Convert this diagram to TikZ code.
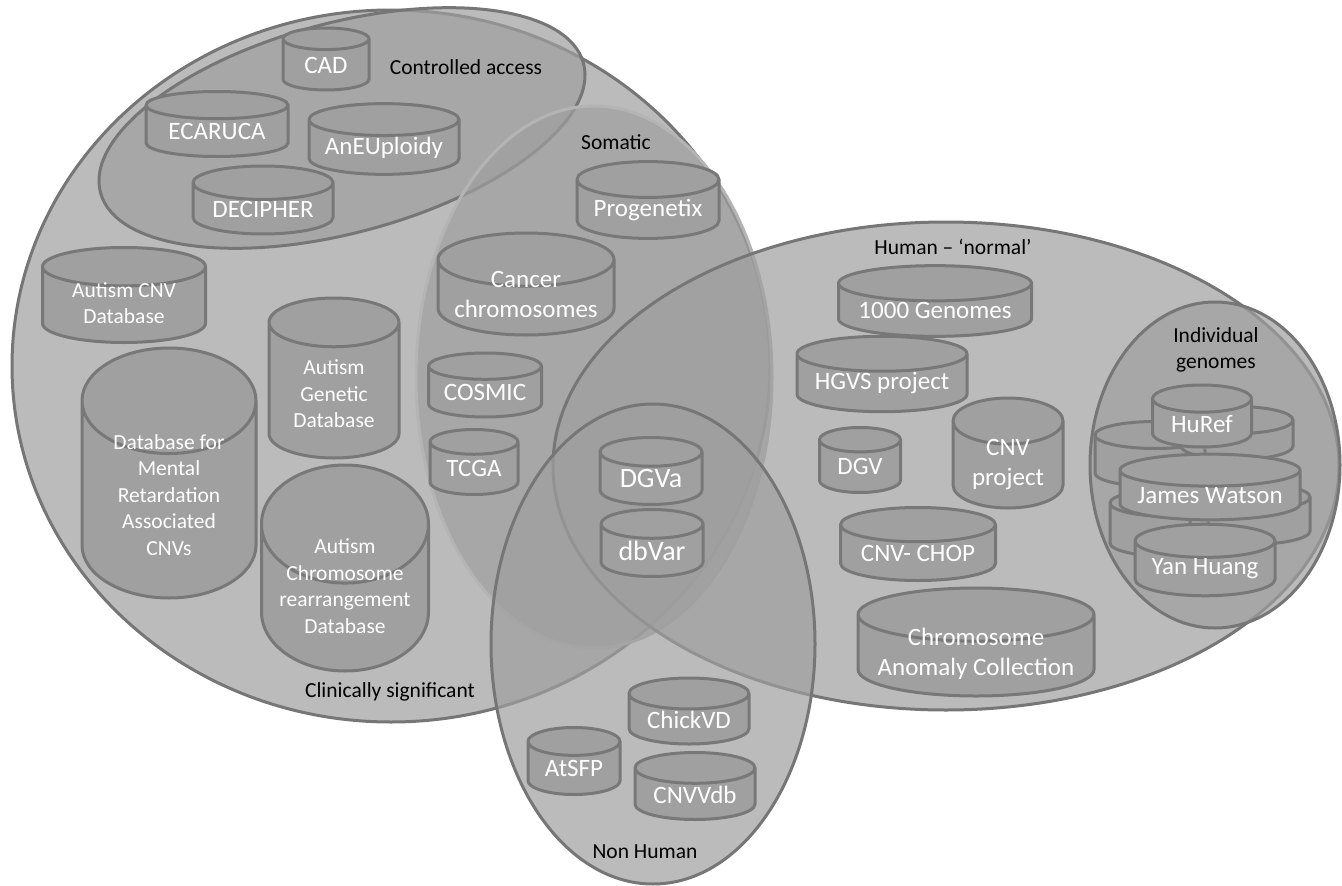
\documentclass[tikz,border=0pt]{standalone}
\usepackage{fontspec}
\setmainfont{Carlito}
\usetikzlibrary{shapes.geometric,positioning}

\definecolor{setfill}{RGB}{159,159,159}
\definecolor{setline}{RGB}{118,118,118}
\definecolor{dbfill}{RGB}{160,160,160}
\definecolor{dbline}{RGB}{120,120,120}

\pgfdeclarelayer{sets}
\pgfdeclarelayer{back}
\pgfsetlayers{sets,back,main}

% stacked label that does not stretch its cylinder
\newcommand{\dbtext}[2][-5pt]{\smash{\raisebox{#1}{\begin{tabular}{@{}c@{}}#2\end{tabular}}}}

\begin{document}
\begin{tikzpicture}[x=1pt,y=-1pt,
  set/.style={draw=setline,line width=3pt,fill=setfill,fill opacity=0.7},
  db/.style={cylinder,shape border rotate=90,aspect=#1,anchor=shape center,
    draw=dbline,line width=3pt,cylinder uses custom fill,cylinder body fill=dbfill,
    cylinder end fill=dbfill,text=white,inner sep=0pt,align=center,
    font=\fontsize{25}{30}\selectfont},
  db/.default=0.3,
  dbsmall/.style={db=#1,font=\fontsize{21.5}{26.5}\selectfont},
  dbsmall/.default=0.4,
  lbl/.style={font=\fontsize{21.5}{26}\selectfont,align=center,inner sep=0pt},
  link/.style={draw=dbline,line width=3pt}]

\useasboundingbox (0,0) rectangle (1342,886);

% Clinically significant
\node[db=0.5] (cad) at (326,59) [minimum width=86pt,minimum height=62pt] {CAD};
\node[db=0.28] (ecaruca) at (217,124) [minimum width=142pt,minimum height=65pt] {ECARUCA};
\node[db=0.27] (aneu) at (384,139) [minimum width=150pt,minimum height=62pt] {AnEUploidy};
\node[db=0.33] (decipher) at (263,200) [minimum width=140pt,minimum height=65pt] {DECIPHER};
\node[dbsmall=0.37] (autismcnv) at (124,295) [minimum width=163pt,minimum height=95pt] {\dbtext{Autism CNV\\Database}};
\node[dbsmall=0.6] (autismgen) at (334,378) [minimum width=130pt,minimum height=160pt] {\dbtext[-10pt]{Autism\\Genetic\\Database}};
\node[dbsmall=0.95] (mental) at (169,473) [minimum width=174pt,minimum height=250pt] {\dbtext[-2pt]{Database for\\Mental\\Retardation\\Associated\\CNVs}};
\node[dbsmall=0.9] (autismchrom) at (345,568) [minimum width=167pt,minimum height=206pt] {\dbtext[5pt]{Autism\\Chromosome\\rearrangement\\Database}};

% Somatic
\node[db=0.33] (progenetix) at (648,200) [minimum width=142pt,minimum height=65pt] {Progenetix};
\node[db=0.37] (cancer) at (526,284) [minimum width=176pt,minimum height=102pt] {\dbtext{Cancer\\chromosomes}};
\node[db=0.32] (cosmic) at (485,385) [minimum width=113pt,minimum height=64pt] {COSMIC};
\node[db=0.45] (tcga) at (474,462) [minimum width=88pt,minimum height=65pt] {TCGA};
\node[db=0.46,font=\fontsize{28}{32}\selectfont] (dgva) at (651,471) [minimum width=102pt,minimum height=67pt] {DGVa};
\node[db=0.43,font=\fontsize{28}{32}\selectfont] (dbvar) at (652,543) [minimum width=102pt,minimum height=67pt] {dbVar};

% Human - normal
\node[db=0.23] (genomes) at (935,301) [minimum width=193pt,minimum height=63pt] {1000 Genomes};
\node[db=0.26] (hgvs) at (882,374) [minimum width=170pt,minimum height=65pt] {HGVS project};
\node[db=0.54] (dgv) at (860,460) [minimum width=81pt,minimum height=65pt] {DGV};
\node[db=0.64] (cnvproject) at (1008,453) [minimum width=110pt,minimum height=110pt] {\dbtext{CNV\\project}};
\node[db=0.3] (chop) at (918,544) [minimum width=155pt,minimum height=73pt] {CNV- CHOP};
\node[db=0.27] (anomaly) at (976,642) [minimum width=236pt,minimum height=108pt] {\dbtext{Chromosome\\Anomaly Collection}};

% Individual genomes
\node[db=0.44] (huref) at (1202,416) [minimum width=99pt,minimum height=62pt] {HuRef};
\node[db=0.22] (watson) at (1210,487) [minimum width=180pt,minimum height=61pt] {James Watson};
\node[db=0.31] (yan) at (1205,560) [minimum width=140pt,minimum height=65pt] {Yan Huang};

% Non Human
\node[db=0.37] (chickvd) at (689,711) [minimum width=120pt,minimum height=66pt] {ChickVD};
\node[db=0.48] (atsfp) at (574,761) [minimum width=92pt,minimum height=67pt] {AtSFP};
\node[db=0.37] (cnvvdb) at (695,786) [minimum width=120pt,minimum height=67pt] {CNVVdb};

% Set labels
\node[lbl] (lcontrolled) at (466,67) {Controlled access};
\node[lbl] (lsomatic) at (616,142) {Somatic};
\node[lbl] (lhuman) at (953,247) {Human -- `normal'};
\node[lbl] (lindividual) at (1216,350) {Individual\\genomes};
\node[lbl] (lclinical) at (390,692) {Clinically significant};
\node[lbl] (lnonhuman) at (645,852) {Non Human};

\begin{pgfonlayer}{back}
  \node[db=0.3] (bga) at (1155,454) [minimum width=120pt,minimum height=65pt] {\hspace*{90pt}};
  \node[db=0.3] (bgb) at (1237,433) [minimum width=112pt,minimum height=53pt] {\hspace*{90pt}};
  \node[db=0.3] (bgc) at (1170,523) [minimum width=120pt,minimum height=67pt] {\hspace*{90pt}};
  \node[db=0.3] (bgd) at (1250,514) [minimum width=120pt,minimum height=61pt] {\hspace*{90pt}};
  \draw[link] (huref) -- (watson);
  \draw[link] (watson) -- (yan);
\end{pgfonlayer}

\begin{pgfonlayer}{sets}
  \fill[white] (0,0) rectangle (1342,886);
  \draw[set] (391,366) ellipse [x radius=379, y radius=356];
  \draw[set,rotate around={15:(342,128)}] (342,128) ellipse [x radius=250, y radius=105];
  \draw[set,draw=setline!55] (594,377) ellipse [x radius=178, y radius=271];
  \draw[set] (946,466) ellipse [x radius=393, y radius=244];
  \draw[set] (653,644) ellipse [x radius=162, y radius=240];
  \draw[set] (1215,465) ellipse [x radius=125, y radius=163];
\end{pgfonlayer}

\end{tikzpicture}
\end{document}
